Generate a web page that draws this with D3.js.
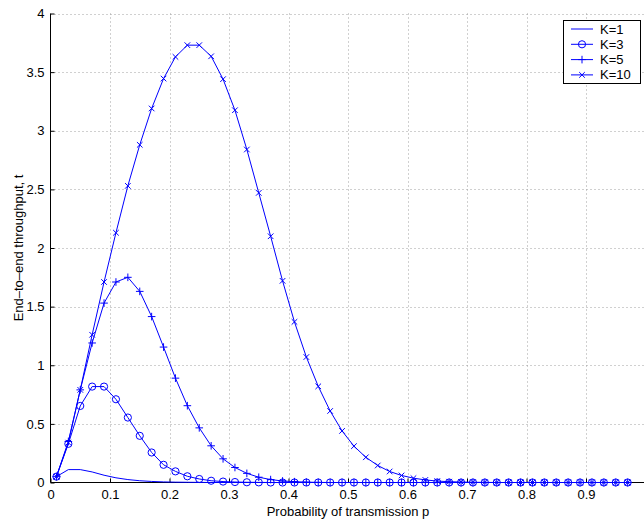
<!DOCTYPE html>
<html>
<head>
<meta charset="utf-8">
<script src="https://cdn.jsdelivr.net/npm/d3@7"></script>
<style>
  html, body { margin: 0; padding: 0; background: #fff; }
  svg { display: block; }
  text { font-family: "Liberation Sans", Arial, Helvetica, sans-serif; font-size: 13px; fill: #000; }
</style>
</head>
<body>
<svg id="chart" width="644" height="521"></svg>
<script>
// ---- data ----
const pValues = [0.01,0.03,0.05,0.07,0.09,0.11,0.13,0.15,0.17,0.19,
                 0.21,0.23,0.25,0.27,0.29,0.31,0.33,0.35,0.37,0.39,
                 0.41,0.43,0.45,0.47,0.49,0.51,0.53,0.55,0.57,0.59,
                 0.61,0.63,0.65,0.67,0.69,0.71,0.73,0.75,0.77,0.79,
                 0.81,0.83,0.85,0.87,0.89,0.91,0.93,0.95,0.97];

const k1 = [0.05,0.11,0.11,0.09,0.062,0.04,0.025,0.015,0.009,0.005,
            0.003,0.002,0.001,0,0,0,0,0,0,0,
            0,0,0,0,0,0,0,0,0,0,
            0,0,0,0,0,0,0,0,0,0,
            0,0,0,0,0,0,0,0,0];
const k3 = [0.05,0.33,0.653,0.818,0.818,0.71,0.554,0.398,0.256,0.151,
            0.095,0.053,0.03,0.015,0.008,0.004,0.002,0.001,0,0,
            0,0,0,0,0,0,0,0,0,0,
            0,0,0,0,0,0,0,0,0,0,
            0,0,0,0,0,0,0,0,0];
const k5 = [0.05,0.35,0.79,1.19,1.53,1.71,1.75,1.63,1.415,1.155,
            0.89,0.655,0.466,0.313,0.202,0.128,0.078,0.045,0.025,0.013,
            0.007,0.003,0.001,0,0,0,0,0,0,0,
            0,0,0,0,0,0,0,0,0,0,
            0,0,0,0,0,0,0,0,0];
const k10 = [0.05,0.34,0.79,1.26,1.71,2.13,2.53,2.88,3.19,3.445,
             3.63,3.73,3.73,3.635,3.44,3.175,2.84,2.47,2.10,1.72,
             1.37,1.07,0.82,0.61,0.44,0.31,0.215,0.145,0.094,0.06,
             0.037,0.022,0.012,0.007,0.004,0.002,0.001,0,0,0,
             0,0,0,0,0,0,0,0,0];

const seriesNames = ["K=1","K=3","K=5","K=10"];
const seriesMarkers = ["none","circle","plus","cross"];
const seriesValues = [k1, k3, k5, k10];

const xTicks = [0,0.1,0.2,0.3,0.4,0.5,0.6,0.7,0.8,0.9];
const yTicks = [0,0.5,1,1.5,2,2.5,3,3.5,4];
const xLabel = "Probability of transmission p";
const yLabel = "End\u2013to\u2013end throughput, t";

// ---- layout ----
const svg = d3.select("#chart");
const blue = "#0000ff";
const x = d3.scaleLinear().domain([0, 1]).range([50.5, 645.5]);
const y = d3.scaleLinear().domain([0, 4]).range([482.5, 13.5]);

// grid
const grid = svg.append("g");
grid.selectAll("line.gx").data(xTicks.filter(d => d > 0)).enter().append("line")
  .attr("x1", d => Math.round(x(d)) + 0.5).attr("x2", d => Math.round(x(d)) + 0.5)
  .attr("y1", y(4)).attr("y2", y(0))
  .attr("stroke", "#a0a0a0").attr("stroke-width", 1).attr("stroke-dasharray", "1,3");
grid.selectAll("line.gy").data(yTicks.filter(d => d > 0)).enter().append("line")
  .attr("y1", d => Math.round(y(d)) + 0.5).attr("y2", d => Math.round(y(d)) + 0.5)
  .attr("x1", x(0)).attr("x2", 644)
  .attr("stroke", "#a0a0a0").attr("stroke-width", 1).attr("stroke-dasharray", "1,3");

// axes
const xAxis = d3.axisBottom(x).tickValues(xTicks).tickSize(-4).tickPadding(7)
  .tickFormat(d => d3.format("")(d));
const yAxis = d3.axisLeft(y).tickValues(yTicks).tickSize(-4).tickPadding(6)
  .tickFormat(d => d3.format("")(d));

const gx = svg.append("g").attr("transform", `translate(0,${y(0)})`).call(xAxis);
gx.select(".domain").remove();
gx.append("line").attr("x1", x(0)).attr("x2", 644).attr("y1", 0).attr("y2", 0)
  .attr("stroke", "#000").attr("stroke-width", 1);
gx.selectAll(".tick line").attr("stroke", "#000");
gx.selectAll(".tick text").style("font-size", "13px").style("font-family", "Liberation Sans, Arial, sans-serif");

const gy = svg.append("g").attr("transform", `translate(${x(0)},0)`).call(yAxis);
gy.select(".domain").remove();
gy.append("line").attr("x1", 0).attr("x2", 0).attr("y1", y(4)).attr("y2", y(0))
  .attr("stroke", "#000").attr("stroke-width", 1);
gy.selectAll(".tick line").attr("stroke", "#000");
gy.selectAll(".tick text").style("font-size", "13px").style("font-family", "Liberation Sans, Arial, sans-serif");

// axis labels
svg.append("text").attr("x", 348).attr("y", 516).attr("text-anchor", "middle").text(xLabel);
svg.append("text").attr("transform", `translate(23,${(y(0) + y(4)) / 2}) rotate(-90)`)
  .attr("text-anchor", "middle").text(yLabel);

// markers
function drawMarker(g, type, cx, cy) {
  if (type === "circle") {
    g.append("circle").attr("cx", cx).attr("cy", cy).attr("r", 3.6)
      .attr("fill", "none").attr("stroke", blue).attr("stroke-width", 1);
  } else if (type === "plus") {
    const s = 3.8;
    g.append("path").attr("d", `M${cx - s},${cy}H${cx + s}M${cx},${cy - s}V${cy + s}`)
      .attr("stroke", blue).attr("stroke-width", 1).attr("fill", "none");
  } else if (type === "cross") {
    const s = 2.8;
    g.append("path").attr("d", `M${cx - s},${cy - s}L${cx + s},${cy + s}M${cx - s},${cy + s}L${cx + s},${cy - s}`)
      .attr("stroke", blue).attr("stroke-width", 1).attr("fill", "none");
  }
}

const line = d3.line().x(d => x(d[0])).y(d => y(d[1]));
const plot = svg.append("g");
seriesValues.forEach((vals, i) => {
  const pts = pValues.map((p, j) => [p, vals[j]]);
  const g = plot.append("g");
  g.append("path").attr("d", line(pts)).attr("fill", "none")
    .attr("stroke", blue).attr("stroke-width", 1);
  if (seriesMarkers[i] !== "none") {
    pts.forEach(pt => drawMarker(g, seriesMarkers[i], x(pt[0]), y(pt[1])));
  }
});

// legend
const lg = svg.append("g");
lg.append("rect").attr("x", 563.5).attr("y", 20.5).attr("width", 77).attr("height", 63)
  .attr("fill", "#fff").attr("stroke", "#000").attr("stroke-width", 1);
seriesNames.forEach((name, i) => {
  const ly = 29 + i * 15.3;
  lg.append("line").attr("x1", 571).attr("x2", 593).attr("y1", ly).attr("y2", ly)
    .attr("stroke", blue).attr("stroke-width", 1);
  drawMarker(lg, seriesMarkers[i], 582, ly);
  lg.append("text").attr("x", 600).attr("y", ly).attr("dy", "0.35em").text(name);
});
</script>
</body>
</html>
